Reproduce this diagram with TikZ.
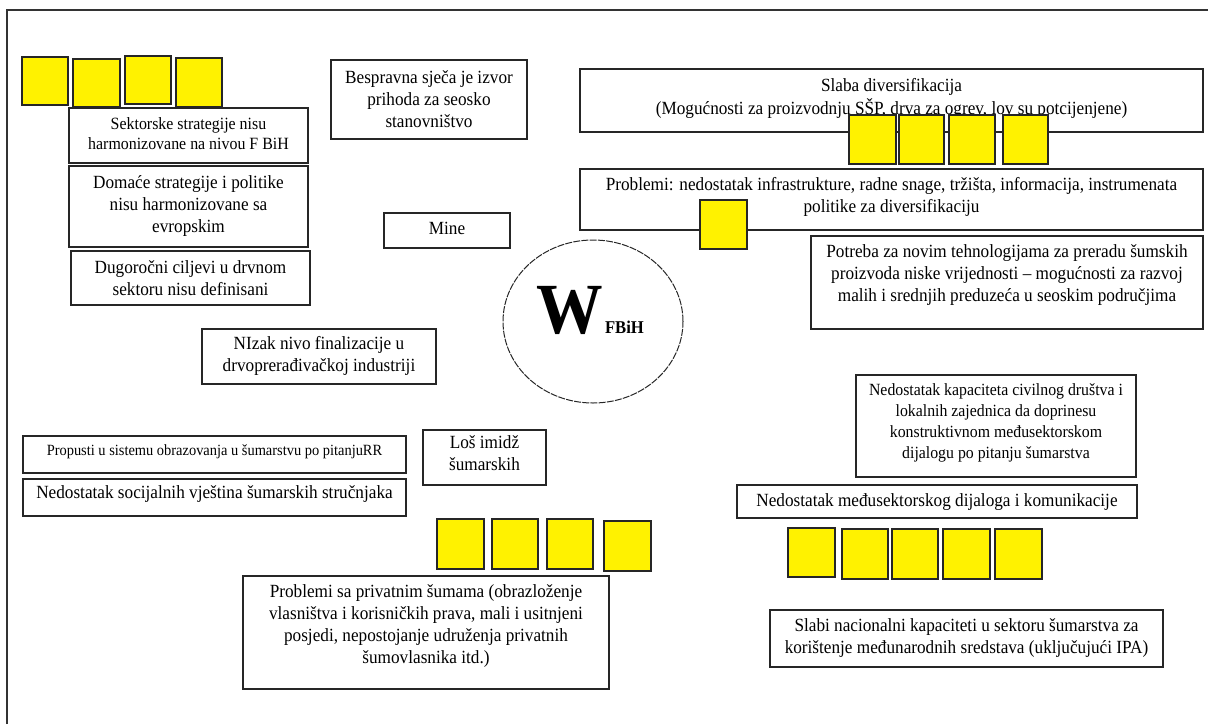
\documentclass[tikz,border=0pt]{standalone}
\usepackage{fontspec}
\setmainfont{Liberation Serif}[FakeStretch=0.925]
\usetikzlibrary{shapes.geometric}
\newcommand\tbx[8]{%
  \node[bx,minimum width={#4-#2},minimum height={#5-#3}] (#1) at ({(#2+#4)/2},{(#3+#5)/2}) {};
  \node[txt,#6,anchor=north] (#1t) at ({(#2+#4)/2},#7) {\strut #8};}
\newcommand\ysq[5]{%
  \node[ysquare,minimum width={#4-#2},minimum height={#5-#3}] (#1) at ({(#2+#4)/2},{(#3+#5)/2}) {};}
\begin{document}
\begin{tikzpicture}[x=1pt,y=-1pt,
  bx/.style={draw=black!85,line width=1.3pt,rectangle,inner sep=0pt,outer sep=0pt},
  ysquare/.style={draw=black!85,fill=yellow,line width=1.3pt,rectangle,inner sep=0pt,outer sep=0pt},
  txt/.style={inner sep=0pt,outer sep=0pt,align=center,text=black},
  fn/.style={font=\fontsize{18.6}{22.3}\selectfont},
  fs/.style={font=\fontsize{17.2}{20}\selectfont},
  fk/.style={font=\fontsize{17.1}{20.8}\selectfont},
  fp/.style={font=\fontsize{15.6}{18}\selectfont},
  frame/.style={draw=black!80,line width=2pt}]
\useasboundingbox (0,0) rectangle (1208,724);
% outer frame
\coordinate (fa) at (7,724);
\coordinate (fb) at (7,10);
\coordinate (fc) at (1208,10);
\draw[frame] (fa) -- (fb) -- (fc);

% boxes
\tbx{sek}{69}{108}{308}{163}{fs}{115}{Sektorske strategije nisu\\harmonizovane na nivou F BiH}
\tbx{dom}{69}{166}{308}{247}{fn}{172.4}{Domaće strategije i politike\\nisu harmonizovane sa\\evropskim}
\tbx{dug}{71}{251}{310}{305}{fn}{257.4}{Dugoročni ciljevi u drvnom\\sektoru nisu definisani}
\tbx{bes}{331}{60}{527}{139}{fn}{67.4}{Bespravna sječa je izvor\\prihoda za seosko\\stanovništvo}
\tbx{mine}{384}{213}{510}{248}{fn}{218.4}{Mine}
\tbx{sla}{580}{69}{1203}{132}{fn}{75.4}{Slaba diversifikacija\\(Mogućnosti za proizvodnju SŠP, drva za ogrev, lov su potcijenjene)}
\tbx{pro}{580}{169}{1203}{230}{fn}{174.4}{Problemi: nedostatak infrastrukture, radne snage, tržišta, informacija, instrumenata\\politike za diversifikaciju}
\tbx{pot}{811}{236}{1203}{329}{fn}{241.4}{Potreba za novim tehnologijama za preradu šumskih\\proizvoda niske vrijednosti – mogućnosti za razvoj\\malih i srednjih preduzeća u seoskim područjima}
\tbx{niz}{202}{329}{436}{384}{fn}{333.4}{NIzak nivo finalizacije u\\drvoprerađivačkoj industriji}
\tbx{kap}{856}{375}{1136}{477}{fk}{381.4}{Nedostatak kapaciteta civilnog društva i\\lokalnih zajednica da doprinesu\\konstruktivnom međusektorskom\\dijalogu po pitanju šumarstva}
\tbx{prs}{23}{436}{406}{473}{fp}{442.4}{Propusti u sistemu obrazovanja u šumarstvu po pitanjuRR}
\tbx{los}{423}{430}{546}{485}{fn}{432.4}{Loš imidž\\šumarskih}
\tbx{nso}{23}{479}{406}{516}{fn}{482.4}{Nedostatak socijalnih vještina šumarskih stručnjaka}
\tbx{med}{737}{485}{1137}{518}{fn}{490.4}{Nedostatak međusektorskog dijaloga i komunikacije}
\tbx{prv}{243}{576}{609}{689}{fn}{581.4}{Problemi sa privatnim šumama (obrazloženje\\vlasništva i korisničkih prava, mali i usitnjeni\\posjedi, nepostojanje udruženja privatnih\\šumovlasnika itd.)}
\tbx{slb}{770}{610}{1163}{667}{fn}{615.4}{Slabi nacionalni kapaciteti u sektoru šumarstva za\\korištenje međunarodnih sredstava (uključujući IPA)}

% yellow squares
\ysq{q1}{22}{57}{68}{105}
\ysq{q2}{73}{59}{120}{107}
\ysq{q3}{125}{56}{171}{104}
\ysq{q4}{176}{58}{222}{107}
\ysq{q5}{849}{115}{896}{164}
\ysq{q6}{899}{115}{944}{164}
\ysq{q7}{949}{115}{995}{164}
\ysq{q8}{1003}{115}{1048}{164}
\ysq{q9}{700}{200}{747}{249}
\ysq{q10}{437}{519}{484}{569}
\ysq{q11}{492}{519}{538}{569}
\ysq{q12}{547}{519}{593}{569}
\ysq{q13}{604}{521}{651}{571}
\ysq{q14}{788}{528}{835}{577}
\ysq{q15}{842}{529}{888}{579}
\ysq{q16}{892}{529}{938}{579}
\ysq{q17}{943}{529}{990}{579}
\ysq{q18}{995}{529}{1042}{579}

% central circle
\node[ellipse,draw=black!85,line width=1pt,dash pattern=on 7pt off 1.2pt,
      minimum width=180,minimum height=163,inner sep=0pt] (wc) at (593,321.5) {};
\node[txt,anchor=base west,font=\fontsize{72}{72}\selectfont\bfseries] (wl) at (536,333) {W};
\node[txt,anchor=base west,font=\fontsize{18}{18}\selectfont\bfseries] (wf) at (605,333) {FBiH};
\end{tikzpicture}
\end{document}
